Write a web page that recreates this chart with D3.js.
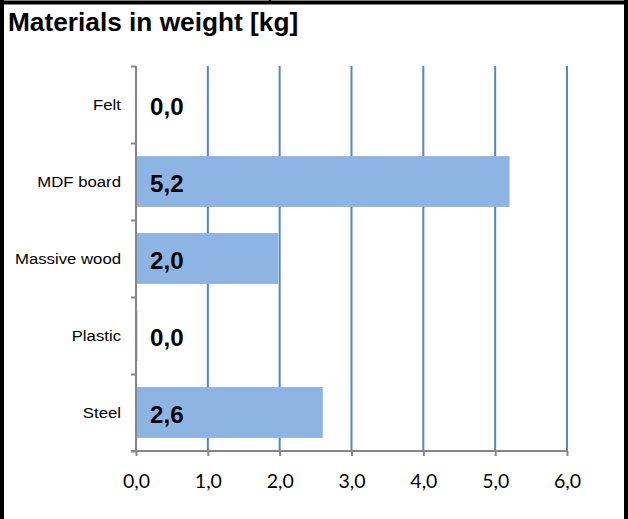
<!DOCTYPE html>
<html>
<head>
<meta charset="utf-8">
<script src="https://cdn.jsdelivr.net/npm/d3@7"></script>
<style>
  body { margin: 0; background: #fff; }
  svg { display: block; }
</style>
</head>
<body>
<div id="chart"></div>
<script>
const width = 628;
const height = 519;

// data
const categories = ['Felt', 'MDF board', 'Massive wood', 'Plastic', 'Steel'];
const weights = [0.0, 5.2, 1.98, 0.02, 2.6];
const valueLabels = ['0,0', '5,2', '2,0', '0,0', '2,6'];
const xTicks = [0, 1, 2, 3, 4, 5, 6];
const title = 'Materials in weight [kg]';

// plot box in px
const plotLeft = 136;
const plotRight = 567;
const plotTop = 66;
const plotBottom = 451;
const stretch = 1.05; // the source picture is a touch wider than tall

const x = d3.scaleLinear().domain([0, 6]).range([plotLeft, plotRight]);
const y = d3.scaleBand()
  .domain(categories)
  .range([plotTop, plotBottom])
  .paddingInner(0.34)
  .paddingOuter(0.17);

const svg = d3.select('#chart').append('svg')
  .attr('width', width)
  .attr('height', height);

// frame
svg.append('line').attr('x1', 0).attr('x2', width).attr('y1', 2.5).attr('y2', 2.5)
  .attr('stroke', '#000').attr('stroke-width', 4);
svg.append('line').attr('x1', 2).attr('x2', 2).attr('y1', 0).attr('y2', height)
  .attr('stroke', '#000').attr('stroke-width', 4);
svg.append('line').attr('x1', 626).attr('x2', 626).attr('y1', 0).attr('y2', height)
  .attr('stroke', '#000').attr('stroke-width', 4);
svg.append('line').attr('x1', 270).attr('x2', 270).attr('y1', 0).attr('y2', 3)
  .attr('stroke', '#000').attr('stroke-width', 2);

// title
svg.append('text')
  .attr('transform', `translate(8, 31) scale(${stretch}, 1)`)
  .attr('font-family', 'Liberation Sans, Arial, sans-serif')
  .attr('font-weight', 'bold')
  .attr('font-size', 25)
  .attr('fill', '#000')
  .text(title);

// vertical gridlines
svg.append('g')
  .selectAll('line')
  .data(xTicks.slice(1))
  .join('line')
    .attr('x1', d => x(d)).attr('x2', d => x(d))
    .attr('y1', plotTop).attr('y2', plotBottom)
    .attr('stroke', '#5585C2')
    .attr('stroke-width', 2);

// bars
svg.append('g')
  .selectAll('rect')
  .data(categories)
  .join('rect')
    .attr('x', x(0))
    .attr('y', d => y(d))
    .attr('width', (d, i) => x(weights[i]) - x(0))
    .attr('height', y.bandwidth())
    .attr('fill', '#8EB4E3');

// y axis: band boundaries as ticks
const yAxisScale = d3.scaleLinear().domain([0, categories.length]).range([plotTop, plotBottom]);
const yAxis = svg.append('g')
  .attr('transform', `translate(${plotLeft}, 0)`)
  .call(d3.axisLeft(yAxisScale).ticks(categories.length).tickSize(5).tickFormat(''));
yAxis.select('.domain').remove();
yAxis.append('line').attr('x1', 0).attr('x2', 0).attr('y1', plotTop).attr('y2', plotBottom);
yAxis.selectAll('line').attr('stroke', '#868686').attr('stroke-width', 2);

// x axis
const xAxis = svg.append('g')
  .attr('transform', `translate(0, ${plotBottom})`)
  .call(d3.axisBottom(x).tickValues(xTicks).tickSize(5).tickFormat(d => d3.format('.1f')(d).replace('.', ',')));
xAxis.select('.domain').remove();
xAxis.append('line').attr('x1', plotLeft - 5).attr('x2', plotRight).attr('y1', 0).attr('y2', 0);
xAxis.selectAll('line').attr('stroke', '#868686').attr('stroke-width', 2);
xAxis.selectAll('text')
  .attr('y', 37)
  .attr('dy', 0)
  .attr('font-family', 'Lato, sans-serif')
  .attr('font-size', 19.5)
  .attr('fill', '#000');

// category labels
svg.append('g')
  .selectAll('text')
  .data(categories)
  .join('text')
    .attr('transform', d => `translate(121, ${y(d) + y.bandwidth() / 2 + 5.5}) scale(1.08, 1)`)
    .attr('text-anchor', 'end')
    .attr('font-family', 'Liberation Sans, Arial, sans-serif')
    .attr('font-size', 15.5)
    .attr('fill', '#000')
    .text(d => d);

// value labels
svg.append('g')
  .selectAll('text')
  .data(categories)
  .join('text')
    .attr('transform', d => `translate(150, ${y(d) + y.bandwidth() / 2 + 10}) scale(${stretch}, 1)`)
    .attr('font-family', 'Liberation Sans, Arial, sans-serif')
    .attr('font-weight', 'bold')
    .attr('font-size', 23)
    .attr('fill', '#000')
    .text((d, i) => valueLabels[i]);
</script>
</body>
</html>
